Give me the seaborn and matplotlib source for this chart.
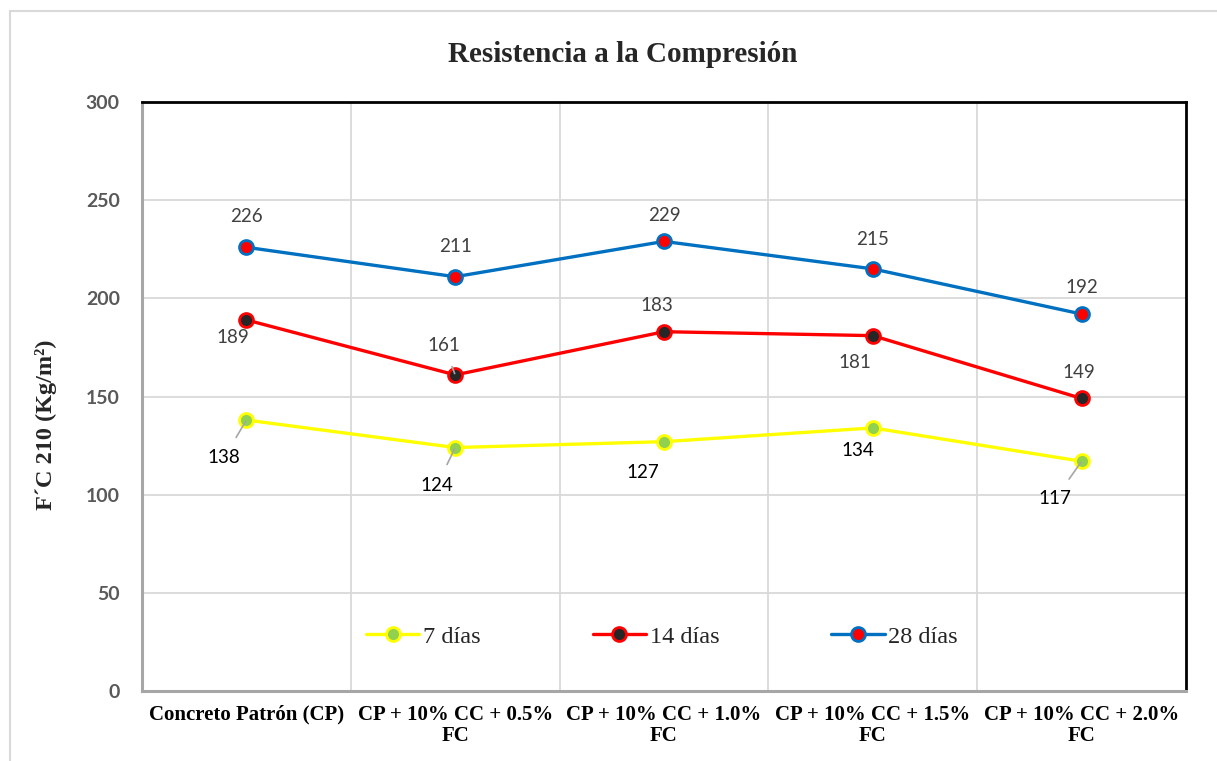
import matplotlib
matplotlib.use("Agg")
import matplotlib.pyplot as plt
from matplotlib.patches import Rectangle
import pandas as pd
import seaborn as sns

# Mezclas ensayadas y resistencias medidas (kg/cm²)
categorias = [
    "Concreto Patrón (CP)",
    "CP + 10% CC + 0.5%\nFC",
    "CP + 10% CC + 1.0%\nFC",
    "CP + 10% CC + 1.5%\nFC",
    "CP + 10% CC + 2.0%\nFC",
]
dias_7 = [138, 124, 127, 134, 117]
dias_14 = [189, 161, 183, 181, 149]
dias_28 = [226, 211, 229, 215, 192]
series = ["7 días", "14 días", "28 días"]
y_ticks = [0, 50, 100, 150, 200, 250, 300]

df = pd.DataFrame({
    "mezcla": categorias * 3,
    "edad": [s for s in series for _ in categorias],
    "fc": dias_7 + dias_14 + dias_28,
})

sns.set_theme(style="white")
SERIF = ["Liberation Serif", "DejaVu Serif"]
SANS = ["Lato", "DejaVu Sans"]

fig = plt.figure(figsize=(12.17, 7.61), dpi=100)
# marco exterior del gráfico
fig.patches.append(Rectangle((10 / 1217, -0.05), 1.2, 1 - 11 / 761 + 0.05,
                             transform=fig.transFigure, fill=False,
                             edgecolor="#D9D9D9", linewidth=1.5, zorder=0))
ax = fig.add_axes([142 / 1217, 1 - 691 / 761, (1186 - 142) / 1217, (691 - 102) / 761])

estilos = {
    "7 días": dict(color="#FFFF00", mfc="#92D050", mec="#FFFF00"),
    "14 días": dict(color="#FF0000", mfc="#262626", mec="#FF0000"),
    "28 días": dict(color="#0070C0", mfc="#FF0000", mec="#0070C0"),
}
for s in series:
    st = estilos[s]
    sns.lineplot(data=df[df["edad"] == s], x="mezcla", y="fc", ax=ax,
                 color=st["color"], linewidth=2.4, marker="o", markersize=10,
                 markerfacecolor=st["mfc"], markeredgecolor=st["mec"],
                 markeredgewidth=2, label=s, sort=False, zorder=3)

ax.set_xlim(-0.5, 4.5)
ax.set_ylim(0, 300)
ax.set_yticks(y_ticks)
ax.set_yticklabels([str(v) for v in y_ticks], fontfamily=SANS, fontweight="bold",
                   fontsize=14, color="#595959")
ax.set_xticks(range(len(categorias)))
ax.set_xticklabels(categorias, fontfamily=SERIF, fontweight="bold", fontsize=15,
                   color="black", linespacing=1.05)
ax.tick_params(axis="y", length=0, pad=16)
ax.tick_params(axis="x", length=0, pad=10)
ax.set_xlabel("")
ax.set_ylabel("F´C 210 (Kg/m²)", fontfamily=SERIF, fontweight="bold", fontsize=17.5)
ax.yaxis.set_label_coords(-0.081, 0.452)

# rejilla: horizontales en cada tick, verticales entre categorías
for v in y_ticks[1:-1]:
    ax.axhline(v, color="#D9D9D9", linewidth=1.3, zorder=0)
for b in [0.5, 1.5, 2.5, 3.5]:
    ax.axvline(b, color="#D9D9D9", linewidth=1.3, zorder=0)

for side in ["top", "right"]:
    ax.spines[side].set_color("black")
    ax.spines[side].set_linewidth(2)
for side in ["left", "bottom"]:
    ax.spines[side].set_color("#A6A6A6")
    ax.spines[side].set_linewidth(2.2)

fig.text(623 / 1217, 1 - 55 / 761, "Resistencia a la Compresión", family=SERIF,
         weight="bold", size=21, ha="center", va="center")

# etiquetas de datos (desplazamiento en puntos) y líneas guía
off_28 = [(0, 22), (0, 22), (0, 19), (0, 21), (0, 19)]
off_14 = [(-10, -13), (-8, 21), (-5, 19), (-13, -19), (-2, 19)]
off_7 = [(-16, -27), (-13, -27), (-15, -22), (-11, -16), (-19, -27)]
guia_14 = [False, True, False, False, False]
guia_7 = [True, True, False, False, True]
col_lbl = {"7 días": "black", "14 días": "#404040", "28 días": "#404040"}

def etiquetar(valores, offs, guias, serie):
    for i, (v, o) in enumerate(zip(valores, offs)):
        arrow = None
        if guias[i]:
            arrow = dict(arrowstyle="-", color="#A6A6A6", lw=1.2,
                         shrinkA=7, shrinkB=1)
        ax.annotate(str(v), xy=(i, v), xytext=o, textcoords="offset points",
                    ha="center", va="center", fontsize=13.5, fontfamily=SANS,
                    color=col_lbl[serie], arrowprops=arrow, zorder=4)

etiquetar(dias_28, off_28, [False] * 5, "28 días")
etiquetar(dias_14, off_14, guia_14, "14 días")
etiquetar(dias_7, off_7, guia_7, "7 días")

leg = ax.legend(loc="center", bbox_to_anchor=(0.498, 0.092), ncol=3, frameon=False,
                prop=dict(family=SERIF, size=17.5), handlelength=2.2,
                handletextpad=0.15, columnspacing=4.6)

fig.savefig("out.png", dpi=100)
